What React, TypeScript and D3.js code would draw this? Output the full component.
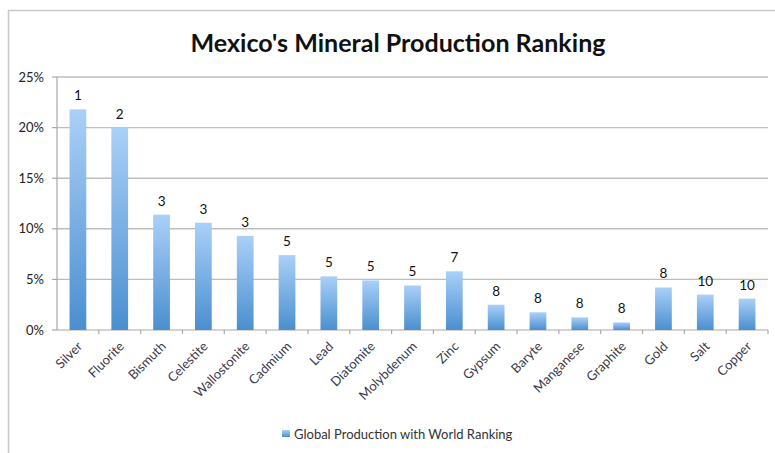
import React from "react";
import * as d3 from "d3";

const categories = ["Silver","Fluorite","Bismuth","Celestite","Wallostonite","Cadmium","Lead","Diatomite","Molybdenum","Zinc","Gypsum","Baryte","Manganese","Graphite","Gold","Salt","Copper"];
const shares = [21.8, 20.0, 11.4, 10.6, 9.3, 7.4, 5.3, 4.9, 4.4, 5.8, 2.5, 1.75, 1.25, 0.75, 4.2, 3.5, 3.1];
const ranks = [1, 2, 3, 3, 3, 5, 5, 5, 5, 7, 8, 8, 8, 8, 8, 10, 10];
const yTicks = [0, 5, 10, 15, 20, 25];
const title = "Mexico's Mineral Production Ranking";
const legendLabel = "Global Production with World Ranking";

export default function App() {
  const W = 775, H = 453;
  const left = 57, right = 768, top = 77, bottom = 330;
  const x = d3.scaleBand<string>().domain(categories).range([left, right]).paddingInner(0).paddingOuter(0);
  const y = d3.scaleLinear().domain([0, 25]).range([bottom, top]);
  const bw = x.bandwidth() * 0.4;
  const font = "Lato, 'Open Sans', sans-serif";
  return (
    <svg width={W} height={H} style={{ position: "absolute", left: 0, top: 0, background: "#fff" }} fontFamily={font}>
      <defs>
        <linearGradient id="barGrad" x1="0" y1="0" x2="0" y2="1">
          <stop offset="0%" stopColor="#aad0f8" />
          <stop offset="100%" stopColor="#4a8fcf" />
        </linearGradient>
      </defs>
      <path d={`M8.5,${H} V10.5 H${W}`} fill="none" stroke="#c8c8c8" strokeWidth={1.5} />
      <text x={398} y={52} textAnchor="middle" fontSize={25} fontWeight={700} fill="#111" textLength={415} lengthAdjust="spacingAndGlyphs">{title}</text>
      {yTicks.map((t) => (
        <g key={t}>
          {t > 0 && <line x1={left} x2={right} y1={y(t)} y2={y(t)} stroke="#bdbdbd" strokeWidth={1.4} />}
          <line x1={left - 5} x2={left} y1={y(t)} y2={y(t)} stroke="#a8a8a8" strokeWidth={1.2} />
          <text x={44} y={y(t)} dy="0.35em" textAnchor="end" fontSize={13} fill="#222">{t}%</text>
        </g>
      ))}
      <line x1={left} x2={left} y1={top} y2={bottom} stroke="#a8a8a8" strokeWidth={1.2} />
      <line x1={left} x2={right} y1={bottom} y2={bottom} stroke="#a8a8a8" strokeWidth={1.2} />
      {categories.map((c) => (
        <line key={"t" + c} x1={(x(c) as number) + x.bandwidth()} x2={(x(c) as number) + x.bandwidth()} y1={bottom} y2={bottom + 4} stroke="#a8a8a8" strokeWidth={1.2} />
      ))}
      {categories.map((c, i) => {
        const cx = (x(c) as number) + x.bandwidth() / 2;
        return (
          <g key={c}>
            <rect x={cx - bw / 2} y={y(shares[i])} width={bw} height={bottom - y(shares[i])} fill="url(#barGrad)" />
            <text x={cx} y={y(shares[i]) - 9} textAnchor="middle" fontSize={13.5} fill="#111">{ranks[i]}</text>
            <text transform={`translate(${cx + 2},${bottom + 14}) rotate(-45)`} textAnchor="end" dy="0.35em" fontSize={13} fill="#3a3a4a">{c}</text>
          </g>
        );
      })}
      <rect x={282} y={430} width={8} height={7} fill="url(#barGrad)" />
      <text x={294} y={439} fontSize={13} fill="#333">{legendLabel}</text>
    </svg>
  );
}
